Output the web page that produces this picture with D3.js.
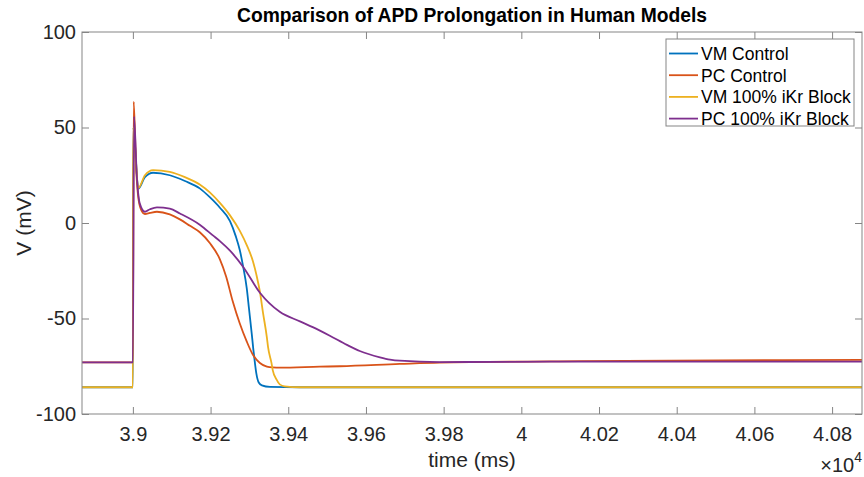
<!DOCTYPE html>
<html>
<head>
<meta charset="utf-8">
<script src="https://cdn.jsdelivr.net/npm/d3@7"></script>
<style>
  body { margin: 0; background: #fff; }
  text { font-family: "Liberation Sans", Arial, Helvetica, sans-serif; }
</style>
</head>
<body>
<script>
// traces: [time (ms), V (mV)]
var vmControl = [
  [38869,-86],[39000,-86],[39001,50],[39014,18],[39031,24],[39052,26.3],[39095,25],
  [39134,22],[39173,18],[39198,13.5],[39224,8],[39250,1],[39265,-7],[39275,-14],
  [39284,-23],[39293,-34],[39299,-45],[39306,-58],[39310,-66],[39314,-73],[39318,-79],
  [39324,-83.5],[39332,-85],[39353,-85.8],[39430,-86],[40880,-86]
];
var pcControl = [
  [38869,-73],[39000,-73],[39002,63.5],[39008,30],[39013,15],[39021,7],[39031,4.7],
  [39044,5.3],[39062,5.9],[39095,4.5],[39121,1.9],[39147,-1.5],[39173,-5],[39198,-10.5],
  [39224,-19],[39240,-28],[39257,-41],[39275,-52.5],[39293,-62],[39309,-69],[39327,-73.3],
  [39345,-75.2],[39360,-75.6],[39378,-75.7],[39481,-75.2],[39533,-75],[39687,-73.8],
  [39790,-73.1],[40150,-72.3],[40880,-71.7]
];
var vmBlock = [
  [38869,-86],[39000,-86],[39001,50],[39014,18.3],[39031,25],[39052,27.7],[39095,26.8],
  [39134,24],[39173,20],[39198,16],[39224,10.5],[39250,4],[39275,-4],[39294,-12],
  [39309,-20],[39319,-28],[39327,-36],[39335,-47],[39345,-60],[39348,-65],[39357,-73.5],
  [39360,-77],[39370,-82],[39378,-84.5],[39391,-85.5],[39430,-86],[40880,-86]
];
var pcBlock = [
  [38869,-73],[39000,-73],[39003,55.7],[39010,25],[39018,10],[39031,5.9],[39044,7.2],
  [39062,8.2],[39095,7.5],[39121,5],[39173,-1],[39206,-6.5],[39224,-9.5],[39250,-14.5],
  [39284,-23],[39327,-36.5],[39378,-46.5],[39430,-51.5],[39463,-54.5],[39507,-59],
  [39551,-63.8],[39584,-67],[39636,-70.3],[39662,-71.5],[39687,-72.1],[39790,-72.8],
  [40150,-72.6],[40880,-72.6]
];

var seriesNames = ["VM Control", "PC Control", "VM 100% iKr Block", "PC 100% iKr Block"];
var seriesColors = ["#0072BD", "#D95319", "#EDB120", "#7E2F8E"];

var xTicks = [39000, 39200, 39400, 39600, 39800, 40000, 40200, 40400, 40600, 40800];
var xTickLabels = ["3.9", "3.92", "3.94", "3.96", "3.98", "4", "4.02", "4.04", "4.06", "4.08"];
var yTicks = [-100, -50, 0, 50, 100];

var margin = {top: 32, right: 2, bottom: 63, left: 82},
    width = 864 - margin.left - margin.right,
    height = 477 - margin.top - margin.bottom;

var svg = d3.select("body").append("svg")
    .attr("width", 864)
    .attr("height", 477);

var g = svg.append("g")
    .attr("transform", "translate(" + margin.left + "," + margin.top + ")");

var x = d3.scaleLinear().domain([38869, 40877]).range([0, width]);
var y = d3.scaleLinear().domain([-100, 100]).range([height, 0]);

var axisColor = "#858585", textColor = "#262626";

g.append("clipPath").attr("id", "clip")
  .append("rect").attr("width", width).attr("height", height);

var line = d3.line()
    .x(function(d) { return x(d[0]); })
    .y(function(d) { return y(d[1]); })
    .curve(d3.curveMonotoneX);

var traces = [vmControl, pcControl, vmBlock, pcBlock];

g.append("g")
    .attr("clip-path", "url(#clip)")
  .selectAll("path")
  .data(traces)
  .enter().append("path")
    .attr("d", line)
    .attr("fill", "none")
    .attr("stroke", function(d, i) { return seriesColors[i]; })
    .attr("stroke-width", 1.8);

// axes, MATLAB style: ticks inward, box on
function styleAxis(sel) {
  sel.select(".domain").remove();
  sel.selectAll(".tick line").attr("stroke", axisColor);
  sel.selectAll(".tick text")
    .attr("fill", textColor)
    .style("font-size", "20px");
}

g.append("g")
    .attr("transform", "translate(0," + height + ")")
    .call(d3.axisBottom(x).tickValues(xTicks)
      .tickFormat(function(d, i) { return xTickLabels[i]; })
      .tickSizeInner(-7).tickPadding(13))
    .call(styleAxis);

g.append("g")
    .call(d3.axisTop(x).tickValues(xTicks).tickFormat("").tickSizeInner(-7))
    .call(styleAxis);

g.append("g")
    .call(d3.axisLeft(y).tickValues(yTicks)
      .tickFormat(function(d) { return String(d); })
      .tickSizeInner(-7).tickPadding(6))
    .call(styleAxis);

g.append("g")
    .attr("transform", "translate(" + width + ",0)")
    .call(d3.axisRight(y).tickValues(yTicks).tickFormat("").tickSizeInner(-7))
    .call(styleAxis);

g.append("rect")
    .attr("width", width)
    .attr("height", height)
    .attr("fill", "none")
    .attr("stroke", axisColor)
    .attr("stroke-width", 1);

// labels
svg.append("text")
    .attr("x", margin.left + width / 2)
    .attr("y", 22)
    .attr("text-anchor", "middle")
    .attr("font-weight", "bold")
    .attr("fill", "#000")
    .attr("textLength", 470)
    .attr("lengthAdjust", "spacingAndGlyphs")
    .style("font-size", "21px")
    .text("Comparison of APD Prolongation in Human Models");

svg.append("text")
    .attr("x", margin.left + width / 2)
    .attr("y", 467)
    .attr("text-anchor", "middle")
    .attr("fill", textColor)
    .style("font-size", "21px")
    .text("time (ms)");

svg.append("text")
    .attr("transform", "translate(31," + (margin.top + height / 2) + ") rotate(-90)")
    .attr("text-anchor", "middle")
    .attr("fill", textColor)
    .style("font-size", "21px")
    .text("V (mV)");

var expo = svg.append("text")
    .attr("x", 862)
    .attr("y", 472)
    .attr("text-anchor", "end")
    .attr("fill", textColor)
    .style("font-size", "20px");
expo.append("tspan").text("\u00d710");
expo.append("tspan").attr("dy", -10).style("font-size", "14px").text("4");

// legend
var legend = svg.append("g").attr("transform", "translate(666,39)");
legend.append("rect")
    .attr("width", 188)
    .attr("height", 87)
    .attr("fill", "#fff")
    .attr("stroke", axisColor);

var item = legend.selectAll(".item")
    .data(seriesNames)
  .enter().append("g")
    .attr("transform", function(d, i) { return "translate(0," + (14.5 + i * 21.7) + ")"; });

item.append("line")
    .attr("x1", 3).attr("x2", 32)
    .attr("stroke", function(d, i) { return seriesColors[i]; })
    .attr("stroke-width", 1.8);

item.append("text")
    .attr("x", 35)
    .attr("dy", "0.36em")
    .attr("fill", "#000")
    .style("font-size", "17.5px")
    .text(function(d) { return d; });
</script>
</body>
</html>
